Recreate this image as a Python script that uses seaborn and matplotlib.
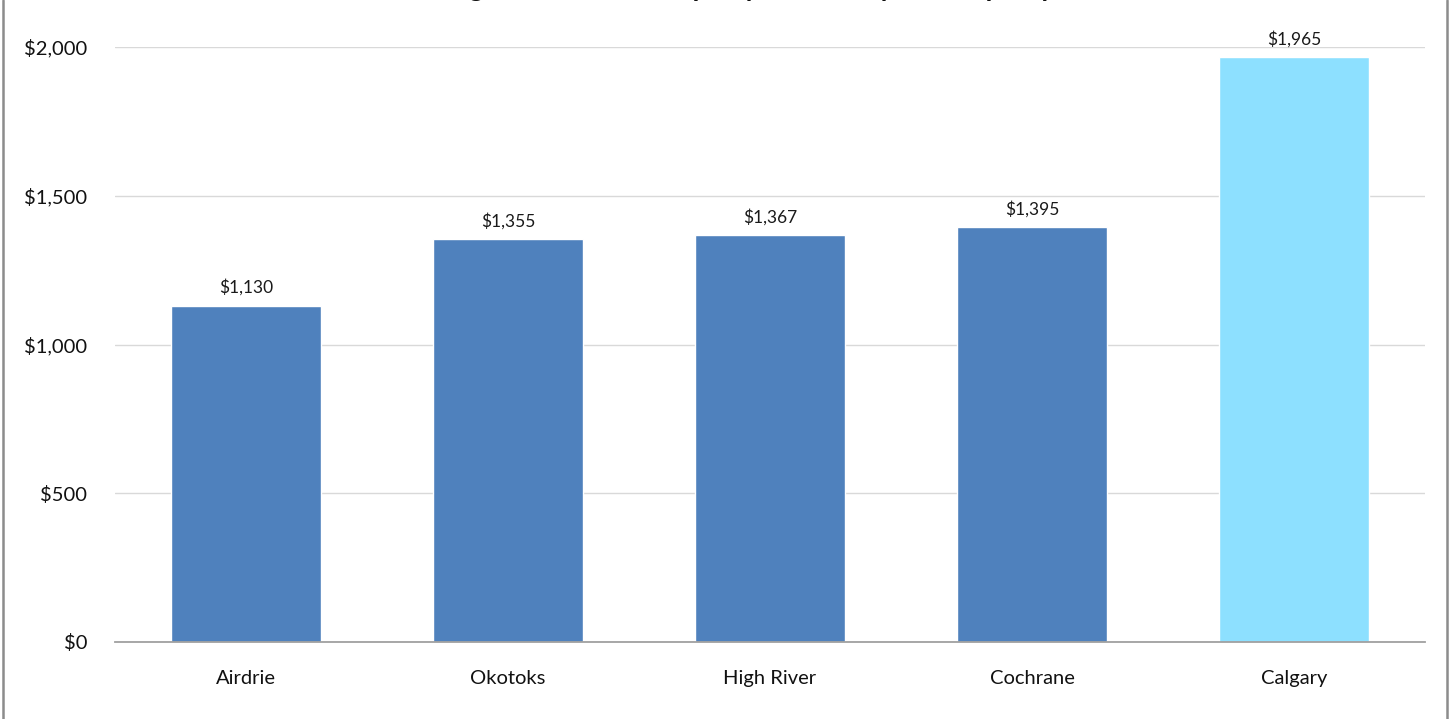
import pandas as pd
import seaborn as sns
import matplotlib.pyplot as plt
from matplotlib.ticker import FuncFormatter, MultipleLocator
from matplotlib.lines import Line2D

# Values
cities = ["Airdrie", "Okotoks", "High River", "Cochrane", "Calgary"]
amounts = [1130, 1355, 1367, 1395, 1965]
bar_colors = ["#4F81BD", "#4F81BD", "#4F81BD", "#4F81BD", "#8DE0FF"]
title_text = "Average Residential Property Tax Bill by Municipality"

df = pd.DataFrame({"City": cities, "Amount": amounts})

sns.set_theme(style="white")
plt.rcParams["font.family"] = ["Lato", "DejaVu Sans"]

fig = plt.figure(figsize=(14.5, 7.19), dpi=100)
ax = fig.add_axes([0.0793, 0.1071, 0.9035, 0.8275])

sns.barplot(data=df, x="City", y="Amount", hue="City", palette=bar_colors,
            width=0.571, saturation=1, legend=False, ax=ax)

for cont in ax.containers:
    ax.bar_label(cont, fmt="${:,.0f}", padding=7, fontsize=12.5, color="#1a1a1a")

ax.set_ylim(0, 2000)
ax.set_xlim(-0.5, 4.5)
ax.yaxis.set_major_locator(MultipleLocator(500))
ax.yaxis.set_major_formatter(FuncFormatter(lambda v, p: f"${v:,.0f}"))
ax.grid(axis="y", color="#D9D9D9", linewidth=1)
ax.set_axisbelow(True)
ax.set_xlabel("")
ax.set_ylabel("")
ax.tick_params(axis="both", length=0, labelsize=14.5, colors="#111111")
ax.tick_params(axis="y", pad=20)
ax.tick_params(axis="x", pad=20)
for side in ["top", "right", "left"]:
    ax.spines[side].set_visible(False)
ax.spines["bottom"].set_color("#A0A0A0")
ax.spines["bottom"].set_linewidth(1.3)

# title sits mostly above the visible area, as in the reference
fig.text(0.5, 1.0 + 4 / 719, title_text, ha="center", va="baseline",
         fontsize=20, fontweight="bold", color="#111111")

# chart frame (left and right edges)
fig.add_artist(Line2D([3 / 1450, 3 / 1450], [0, 1], color="#8C8C8C", linewidth=1.8))
fig.add_artist(Line2D([1447 / 1450, 1447 / 1450], [0, 1], color="#8C8C8C", linewidth=1.8))

fig.savefig("out.png", dpi=100)
